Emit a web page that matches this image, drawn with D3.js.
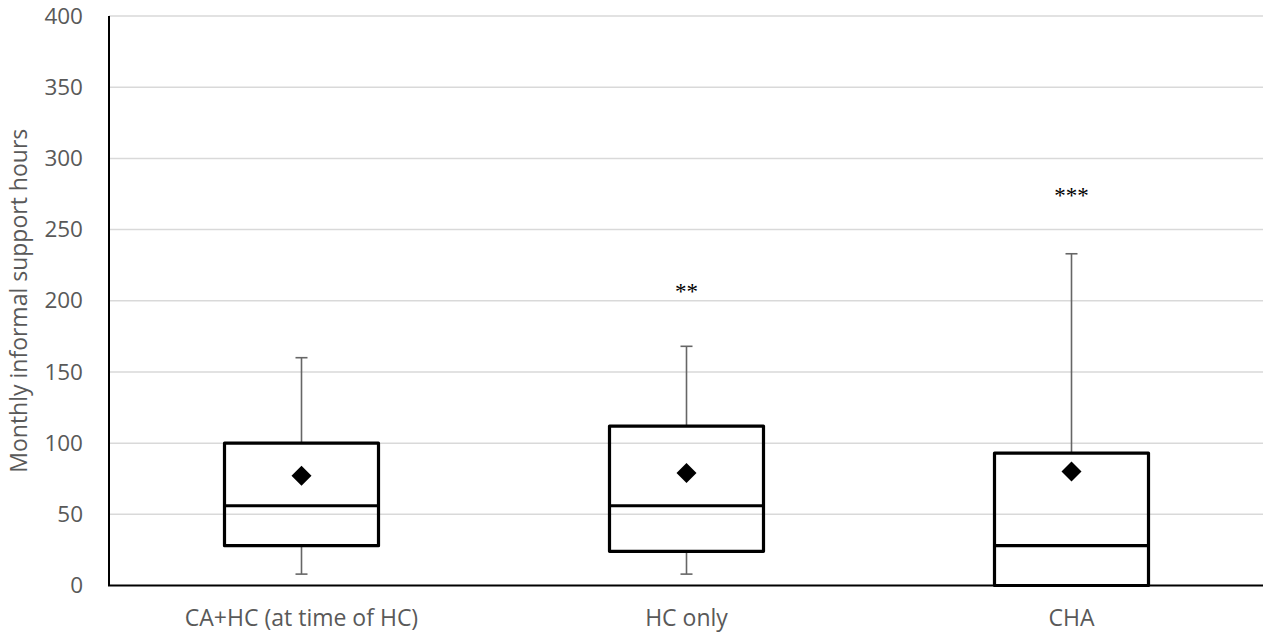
<!DOCTYPE html>
<html>
<head>
<meta charset="utf-8">
<script src="https://cdn.jsdelivr.net/npm/d3@7"></script>
<style>
  html, body { margin: 0; padding: 0; background: #fff; }
  svg { display: block; }
</style>
</head>
<body>
<svg id="chart" width="1263" height="636"></svg>
<script>
// Groups and their box-plot summaries (monthly informal support hours)
const categories = ["CA+HC (at time of HC)", "HC only", "CHA"];
const whiskerMin = [8, 8, 0];
const q1 = [28, 24, 0];
const median = [56, 56, 28];
const q3 = [100, 112, 93];
const whiskerMax = [160, 168, 233];
const mean = [77, 79, 80];
const significance = ["", "**", "***"];
const significanceAt = [null, 207, 274];
const yTicks = [0, 50, 100, 150, 200, 250, 300, 350, 400];

const svg = d3.select("#chart");
const margin = { left: 109, right: -1, top: 16, bottom: 50.5 };
const W = 1263, H = 636;
const font = "'Open Sans', sans-serif";

const x = d3.scaleBand()
  .domain(categories)
  .range([margin.left, W - margin.right])
  .padding(0);

const y = d3.scaleLinear()
  .domain([0, 400])
  .range([H - margin.bottom, margin.top]);

const boxW = x.bandwidth() * 0.4;
const capW = 12;

// Horizontal gridlines
svg.append("g")
  .selectAll("line")
  .data(yTicks.filter(t => t > 0))
  .join("line")
  .attr("x1", margin.left)
  .attr("x2", W)
  .attr("y1", d => y(d))
  .attr("y2", d => y(d))
  .attr("stroke", "#d9d9d9")
  .attr("stroke-width", 1.5);

// Y axis with labels only
const yAxis = svg.append("g")
  .attr("transform", `translate(${margin.left},0)`)
  .call(d3.axisLeft(y).tickValues(yTicks).tickSize(0).tickPadding(26));
yAxis.select(".domain").remove();
yAxis.selectAll("text")
  .attr("font-family", font)
  .attr("font-size", 22.5)
  .attr("fill", "#595959");

// Vertical axis line
svg.append("line")
  .attr("x1", margin.left).attr("x2", margin.left)
  .attr("y1", y(400)).attr("y2", y(0))
  .attr("stroke", "#000").attr("stroke-width", 2);

// X axis labels
const xAxis = svg.append("g")
  .attr("transform", `translate(0,${y(0)})`)
  .call(d3.axisBottom(x).tickSize(0).tickPadding(24));
xAxis.select(".domain").remove();
xAxis.selectAll("text")
  .attr("font-family", font)
  .attr("font-size", 23)
  .attr("fill", "#595959");

// Y axis title
svg.append("text")
  .attr("transform", `translate(27,${(y(0) + y(400)) / 2}) rotate(-90)`)
  .attr("text-anchor", "middle")
  .attr("font-family", font)
  .attr("font-size", 23)
  .attr("fill", "#595959")
  .text("Monthly informal support hours");

const groups = svg.append("g")
  .selectAll("g")
  .data(categories.map((c, i) => ({ c, i })))
  .join("g")
  .attr("transform", d => `translate(${x(d.c) + x.bandwidth() / 2},0)`);

// Whiskers
groups.each(function (d) {
  const g = d3.select(this);
  const i = d.i;
  const segs = [];
  if (whiskerMax[i] > q3[i]) segs.push([q3[i], whiskerMax[i]]);
  if (whiskerMin[i] < q1[i]) segs.push([whiskerMin[i], q1[i]]);
  segs.forEach(([a, b]) => {
    g.append("line")
      .attr("x1", 0).attr("x2", 0)
      .attr("y1", y(a)).attr("y2", y(b))
      .attr("stroke", "#666").attr("stroke-width", 1.6);
  });
  [whiskerMin[i], whiskerMax[i]].forEach(v => {
    if (v === q1[i]) return;
    g.append("line")
      .attr("x1", -capW / 2).attr("x2", capW / 2)
      .attr("y1", y(v)).attr("y2", y(v))
      .attr("stroke", "#666").attr("stroke-width", 1.6);
  });
});

// Boxes
groups.append("rect")
  .attr("x", -boxW / 2)
  .attr("width", boxW)
  .attr("y", d => y(q3[d.i]))
  .attr("height", d => y(q1[d.i]) - y(q3[d.i]))
  .attr("fill", "none")
  .attr("stroke", "#000")
  .attr("stroke-width", 3.2)
  .attr("stroke-linejoin", "round");

// Medians
groups.append("line")
  .attr("x1", -boxW / 2).attr("x2", boxW / 2)
  .attr("y1", d => y(median[d.i])).attr("y2", d => y(median[d.i]))
  .attr("stroke", "#000").attr("stroke-width", 3.2);

// Means
groups.append("path")
  .attr("transform", d => `translate(0,${y(mean[d.i])})`)
  .attr("d", "M0,-10L10,0L0,10L-10,0Z")
  .attr("fill", "#000");

// X axis baseline
svg.append("line")
  .attr("x1", margin.left - 1).attr("x2", W)
  .attr("y1", y(0)).attr("y2", y(0))
  .attr("stroke", "#000").attr("stroke-width", 2);

// Significance markers
groups.filter(d => significance[d.i])
  .append("text")
  .attr("y", d => y(significanceAt[d.i]))
  .attr("dy", "0.35em")
  .attr("text-anchor", "middle")
  .attr("font-family", "'Liberation Serif', 'DejaVu Serif', serif")
  .attr("font-size", 23)
  .attr("fill", "#000")
  .text(d => significance[d.i]);
</script>
</body>
</html>
